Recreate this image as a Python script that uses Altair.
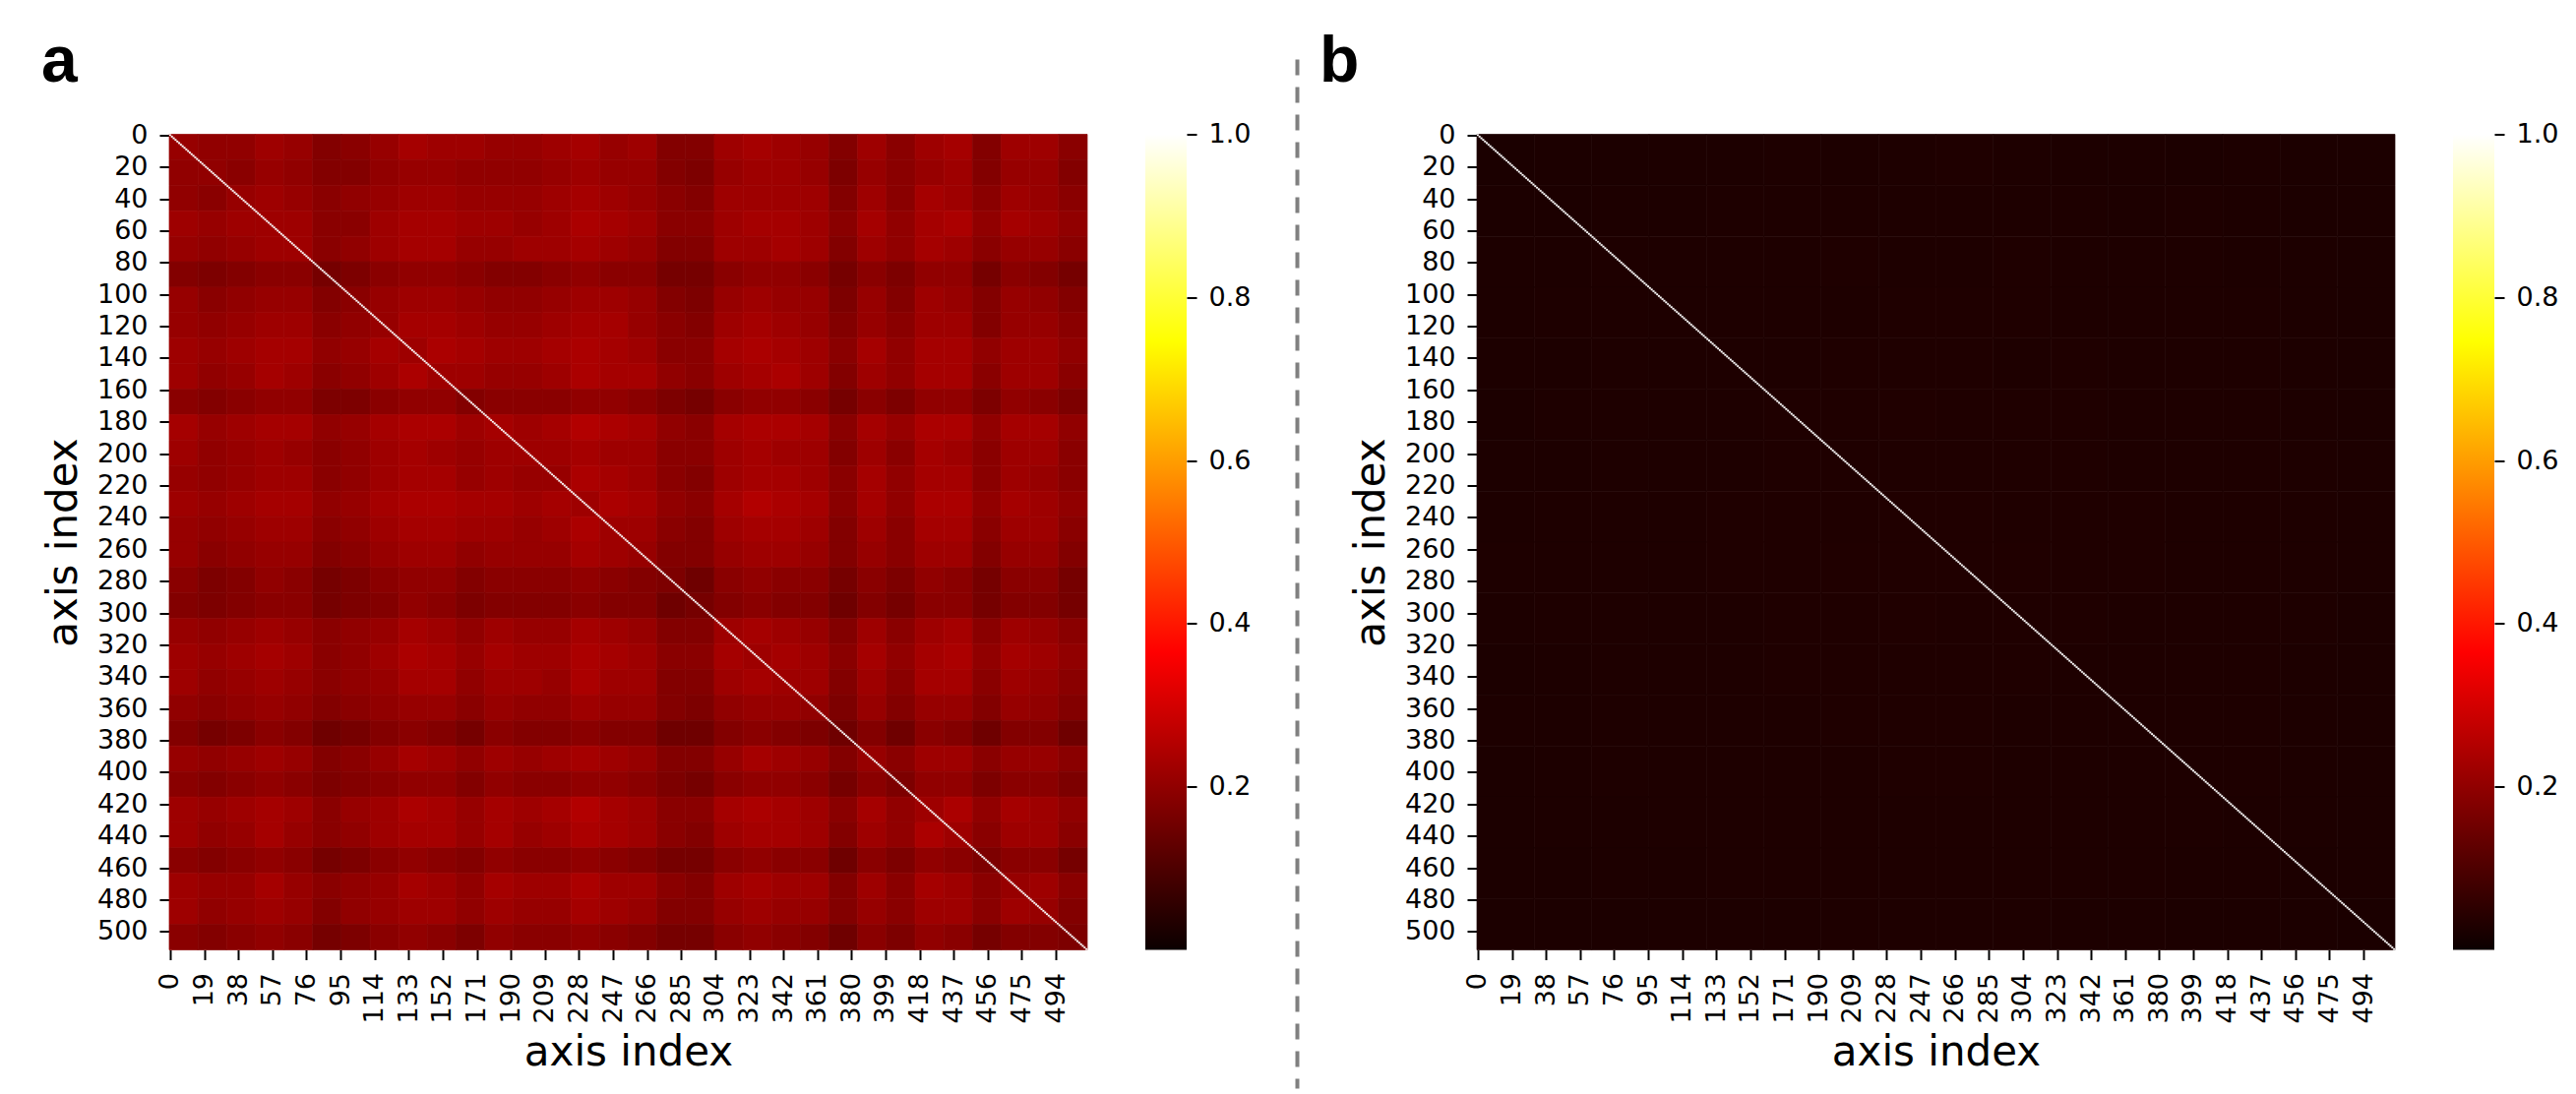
import altair as alt

# Estimated mean values, in hundredths, per block of 16 x 16 axis indices (panel a).
a_rows = [
 [21,20,20,22,21,18,19,21,23,22,22,21,21,22,23,21,22,18,18,22,23,22,21,18,22,19,22,23,18,22,22,19],
 [20,20,19,21,20,18,18,20,21,21,20,20,20,21,22,21,21,18,17,21,22,22,21,17,21,19,21,22,18,21,21,18],
 [20,19,21,22,21,19,20,21,22,22,21,21,21,22,23,22,21,19,18,22,22,22,22,18,22,19,23,22,19,22,21,19],
 [22,21,22,22,22,19,19,22,23,23,22,22,21,22,24,23,22,19,19,22,23,23,22,19,23,20,23,24,20,23,22,20],
 [21,20,21,22,22,19,20,22,23,23,21,21,22,22,23,22,21,18,18,22,22,23,22,18,22,20,23,22,19,21,21,19],
 [18,17,18,19,19,16,17,19,20,20,19,18,18,19,20,19,19,16,16,19,20,20,19,16,19,17,20,20,16,19,18,16],
 [21,19,20,21,21,18,19,21,22,22,21,20,20,21,22,22,21,18,17,21,22,21,21,17,21,18,22,21,18,21,20,18],
 [21,20,21,22,22,19,20,21,23,23,22,21,21,22,23,23,21,19,18,22,23,22,21,18,21,19,22,22,18,21,21,19],
 [22,21,22,23,23,20,21,23,22,24,23,22,22,23,24,23,22,19,19,23,24,23,22,19,23,20,23,23,20,22,22,20],
 [22,20,21,23,22,19,20,22,24,22,22,21,21,22,24,23,23,20,19,22,23,24,22,18,22,20,23,23,19,22,22,19],
 [19,18,19,20,20,17,17,19,20,20,18,19,19,19,20,20,19,17,16,19,20,20,19,16,19,17,20,20,17,20,19,17],
 [23,21,22,23,23,20,21,23,24,24,22,23,22,23,25,24,23,20,19,23,24,24,23,19,23,21,24,24,20,23,23,20],
 [22,20,21,22,21,19,20,22,23,22,21,22,22,22,23,22,22,19,19,22,23,22,22,18,22,19,23,22,19,22,22,19],
 [21,20,21,22,22,19,20,22,23,23,21,22,21,21,24,23,22,19,18,22,23,23,22,19,23,20,23,23,19,22,21,19],
 [22,21,22,23,23,20,21,23,24,24,23,23,22,23,22,24,23,20,19,23,25,24,23,19,23,20,24,24,20,23,22,20],
 [21,20,21,22,22,19,20,22,23,23,22,22,21,22,24,22,22,19,18,22,23,23,22,18,22,19,23,23,19,22,22,19],
 [21,19,20,21,21,18,19,21,22,22,20,21,21,21,23,22,21,18,18,21,22,22,21,18,21,19,22,22,18,21,21,18],
 [19,17,18,20,19,16,17,19,20,20,18,19,19,19,20,19,18,17,15,19,20,19,19,16,19,17,20,19,16,19,19,16],
 [18,17,18,19,19,16,17,18,20,19,17,18,18,18,19,18,18,15,16,18,19,18,18,15,18,16,19,19,16,18,18,16],
 [21,20,21,22,21,19,20,21,23,22,20,22,21,21,23,22,21,18,18,22,23,22,21,18,22,19,22,23,19,22,21,19],
 [22,21,22,23,22,19,20,22,24,23,21,23,22,22,24,23,22,19,19,23,22,23,22,19,23,20,23,24,20,23,22,20],
 [22,20,21,22,21,19,20,21,23,23,20,22,22,21,24,22,22,18,18,22,23,22,22,18,22,19,23,23,19,22,21,19],
 [20,19,20,21,20,18,19,20,21,21,19,21,20,20,22,21,21,18,17,20,21,21,20,17,21,18,21,21,18,21,20,18],
 [18,16,17,19,18,15,16,18,19,18,16,19,18,18,19,18,18,15,15,18,19,18,17,15,18,15,19,18,15,18,18,15],
 [21,20,21,22,21,18,19,21,23,22,20,22,21,22,23,22,21,18,18,21,23,22,21,18,21,19,22,22,19,21,21,19],
 [19,18,19,20,19,17,18,19,20,20,18,20,19,19,20,20,19,17,16,19,20,20,19,16,19,17,20,20,17,19,19,17],
 [22,21,22,23,22,19,21,22,24,23,21,23,22,23,25,23,22,19,19,23,24,23,22,19,23,20,22,24,20,23,22,20],
 [22,20,21,23,21,19,20,22,23,23,21,23,21,22,24,23,22,19,18,22,23,23,22,18,22,20,24,22,19,22,22,19],
 [19,18,19,20,19,16,17,19,20,19,18,20,19,19,20,19,18,16,16,19,20,19,19,15,19,17,20,19,17,19,19,16],
 [22,21,21,23,21,19,20,21,23,22,20,23,22,22,24,22,22,19,18,22,23,22,22,18,22,19,23,22,19,21,22,19],
 [22,20,21,22,21,18,20,21,22,22,20,22,21,21,23,22,21,18,18,21,22,21,21,18,21,19,22,22,19,22,21,18],
 [19,18,19,20,19,16,17,19,20,19,17,20,19,19,20,19,18,16,16,19,20,19,18,15,19,17,20,19,16,18,18,17],
]

# Estimated mean values, in thousandths, per block of 32 x 32 axis indices (panel b).
b_rows = [
 [24,25,26,27,27,28,27,29,30,28,27,27,26,27,26,25],
 [25,26,27,27,28,28,29,29,29,29,28,27,28,27,26,25],
 [27,27,28,29,28,29,30,29,29,30,29,28,28,27,27,26],
 [27,28,28,28,29,29,29,30,30,30,29,29,28,28,27,26],
 [27,27,28,29,29,29,30,30,30,29,30,29,29,28,27,26],
 [26,28,29,29,29,30,30,31,30,30,30,29,29,28,27,26],
 [27,27,28,29,29,30,30,30,30,30,30,29,29,28,28,27],
 [27,28,29,29,30,30,30,31,31,30,30,30,29,29,28,27],
 [28,28,29,29,30,30,31,31,31,31,30,30,29,29,28,27],
 [27,28,28,29,29,30,30,31,30,30,30,29,29,29,28,26],
 [26,27,28,29,29,30,30,30,30,30,29,29,29,28,27,26],
 [27,27,28,29,29,29,30,30,30,29,29,29,28,28,27,26],
 [26,27,28,28,29,29,29,30,30,29,29,29,28,28,27,26],
 [26,27,27,28,28,29,29,29,29,29,29,28,28,27,27,25],
 [25,26,27,27,28,28,28,29,29,29,28,28,27,27,26,25],
 [25,26,26,27,27,27,28,28,28,28,27,27,26,26,25,24],
]

diagonal_values = [1.0] * 512

x_ticks = [0, 19, 38, 57, 76, 95, 114, 133, 152, 171, 190, 209, 228, 247, 266, 285,
           304, 323, 342, 361, 380, 399, 418, 437, 456, 475, 494]
y_ticks = [0, 20, 40, 60, 80, 100, 120, 140, 160, 180, 200, 220, 240, 260, 280, 300,
           320, 340, 360, 380, 400, 420, 440, 460, 480, 500]
bar_ticks = [0.2, 0.4, 0.6, 0.8, 1.0]

hot = alt.Scale(domain=[0, 0.365, 0.746, 1],
                range=["#0b0000", "#ff0000", "#ffff00", "#ffffff"],
                interpolate="rgb", clamp=True)


def blocks(rows, unit):
    span = 512 // len(rows)
    return [
        {"x0": c * span, "x1": (c + 1) * span, "y0": r * span, "y1": (r + 1) * span, "v": v * unit}
        for r, row in enumerate(rows) for c, v in enumerate(row)
    ]


diagonal = [{"x0": i, "x1": i + 1, "y0": i, "y1": i + 1, "v": v} for i, v in enumerate(diagonal_values)]


def panel(rows, unit, letter, letter_x):
    xs = alt.Scale(domain=[0, 512], nice=False, zero=False)
    ys = alt.Scale(domain=[0, 512], nice=False, zero=False, reverse=True)
    xax = alt.Axis(values=[t + 0.5 for t in x_ticks], labelExpr="floor(datum.value)", title="axis index",
                   labelAngle=270, labelAlign="right", labelBaseline="middle", labelOverlap=False,
                   labelPadding=13, titlePadding=9, domain=False, grid=False)
    yax = alt.Axis(values=[t + 0.5 for t in y_ticks], labelExpr="floor(datum.value)", title="axis index",
                   labelOverlap=False, labelPadding=12, titlePadding=12, domain=False, grid=False)
    heat = alt.Chart(alt.Data(values=blocks(rows, unit))).mark_rect(strokeWidth=0.7).encode(
        x=alt.X("x0:Q", scale=xs, axis=xax), x2="x1:Q",
        y=alt.Y("y0:Q", scale=ys, axis=yax), y2="y1:Q",
        color=alt.Color("v:Q", scale=hot, legend=None),
        stroke=alt.Stroke("v:Q", scale=hot, legend=None),
    )
    line = alt.Chart(alt.Data(values=diagonal)).mark_rect(stroke="#ffffff", strokeWidth=0.25).encode(
        x=alt.X("x0:Q", scale=xs, axis=xax), x2="x1:Q",
        y=alt.Y("y0:Q", scale=ys, axis=yax), y2="y1:Q",
        color=alt.Color("v:Q", scale=hot, legend=None),
    )
    tag = alt.Chart(alt.Data(values=[{"t": letter}])).mark_text(
        font="Liberation Sans", fontWeight="bold", fontSize=66, align="left", baseline="alphabetic", clip=False
    ).encode(text="t:N", x=alt.value(letter_x), y=alt.value(-54))
    return alt.layer(heat, line, tag).properties(width=933, height=829)


def colorbar():
    gradient = alt.Gradient(
        gradient="linear", x1=0, y1=1, x2=0, y2=0,
        stops=[alt.GradientStop(offset=0, color="#0b0000"),
               alt.GradientStop(offset=0.365, color="#ff0000"),
               alt.GradientStop(offset=0.746, color="#ffff00"),
               alt.GradientStop(offset=1, color="#ffffff")],
    )
    return alt.Chart(alt.Data(values=[{"low": 0, "high": 1}])).mark_rect(fill=gradient).encode(
        x=alt.value(0), x2=alt.value(42),
        y=alt.Y("low:Q", scale=alt.Scale(domain=[0, 1], nice=False),
                axis=alt.Axis(orient="right", values=bar_ticks, format=".1f", title=None,
                              labelPadding=12, domain=False, grid=False)),
        y2="high:Q",
    ).properties(width=42, height=829)


separator = alt.Chart(alt.Data(values=[{"k": 0}])).mark_rule(
    color="#808080", strokeWidth=4, strokeDash=[16, 12]
).encode(x=alt.value(27.5), y=alt.value(-76), y2=alt.value(970)).properties(width=26, height=829)

left = alt.hconcat(panel(a_rows, 0.01, "a", -130), colorbar(), spacing=58)
right = alt.hconcat(panel(b_rows, 0.001, "b", -160), colorbar(), spacing=58)

chart = alt.hconcat(left, separator, right, spacing=20).properties(
    padding={"left": 34, "top": 21.5, "right": 0, "bottom": 0}, background="white"
).configure_view(stroke=None).configure_axis(
    labelFont="DejaVu Sans", labelFontSize=27, labelColor="black",
    titleFont="DejaVu Sans", titleFontSize=42, titleFontWeight="normal", titleColor="black",
    tickColor="black", tickWidth=2, tickSize=10,
)

chart.save("out.html", embed_options={"renderer": "svg", "actions": False})
